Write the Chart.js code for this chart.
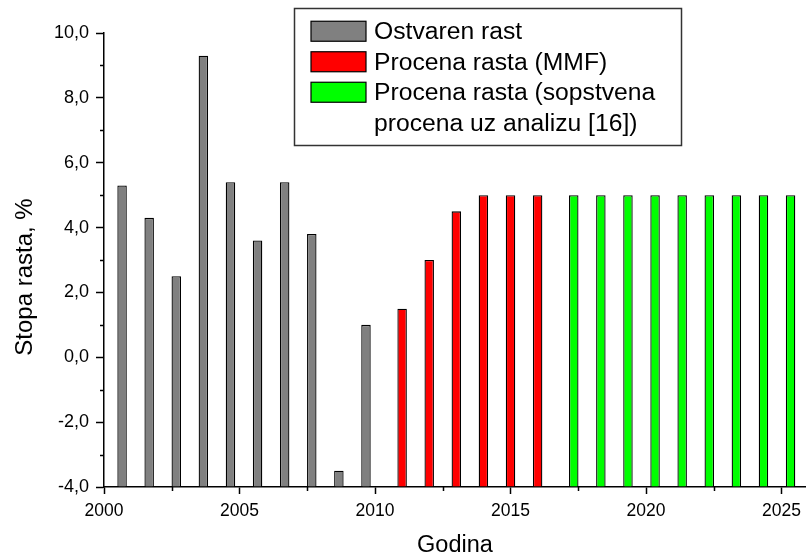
<!DOCTYPE html>
<html>
<head>
<meta charset="utf-8">
<title>Stopa rasta</title>
<script src="https://cdn.jsdelivr.net/npm/chart.js@4.4.1/dist/chart.umd.min.js"></script>
<style>
    body { margin: 0; background: #fff; }
    canvas { display: block; }
</style>
</head>
<body>
<canvas id="growthChart" width="808" height="560"></canvas>
<script>
// years and growth rates
const actualYears = [2001, 2002, 2003, 2004, 2005, 2006, 2007, 2008, 2009, 2010];
const actualValues = [5.3, 4.3, 2.5, 9.3, 5.4, 3.6, 5.4, 3.8, -3.5, 1.0];

const imfYears = [2011, 2012, 2013, 2014, 2015, 2016];
const imfValues = [1.5, 3.0, 4.5, 5.0, 5.0, 5.0];

const ownYears = [2017, 2018, 2019, 2020, 2021, 2022, 2023, 2024, 2025];
const ownValues = [5.0, 5.0, 5.0, 5.0, 5.0, 5.0, 5.0, 5.0, 5.0];

const seriesLabels = [
    'Ostvaren rast',
    'Procena rasta (MMF)',
    'Procena rasta (sopstvena procena uz analizu [16])'
];
const seriesColors = ['#808080', '#ff0000', '#00ff00'];

const FONT = '"Liberation Sans", Arial, sans-serif';
Chart.defaults.font.family = FONT;
Chart.defaults.color = '#000';

function toPoints(xs, ys) {
    return xs.map(function (x, i) { return { x: x, y: ys[i] }; });
}

// short ticks between the labelled ones
const minorTicks = {
    id: 'minorTicks',
    afterDraw: function (chart) {
        const ctx = chart.ctx;
        const x = chart.scales.x;
        const y = chart.scales.y;
        ctx.save();
        ctx.strokeStyle = '#000';
        ctx.lineWidth = 1.5;
        ctx.beginPath();
        for (let v = x.min + 2.5; v < x.max; v += 5) {
            const px = Math.round(x.getPixelForValue(v)) + 0.5;
            ctx.moveTo(px, x.top);
            ctx.lineTo(px, x.top + 4);
        }
        for (let v = y.min + 1; v < y.max; v += 2) {
            const py = Math.round(y.getPixelForValue(v)) + 0.5;
            ctx.moveTo(y.right, py);
            ctx.lineTo(y.right - 4, py);
        }
        ctx.stroke();
        ctx.restore();
    }
};

// y title sits a bit below the middle of the axis in the original
const yTitle = {
    id: 'yTitle',
    afterDraw: function (chart) {
        const ctx = chart.ctx;
        ctx.save();
        ctx.translate(25, 277);
        ctx.rotate(-Math.PI / 2);
        ctx.font = '24px ' + FONT;
        ctx.fillStyle = '#000';
        ctx.textAlign = 'center';
        ctx.textBaseline = 'middle';
        ctx.fillText('Stopa rasta, %', 0, 0);
        ctx.restore();
    }
};

// framed legend in the upper middle, last label wraps onto two lines
const boxLegend = {
    id: 'boxLegend',
    afterDraw: function (chart) {
        const ctx = chart.ctx;
        const left = 294, top = 8, width = 387;
        const rowH = 30.5, padTop = 8, padBottom = 7;
        const swatchX = 311, swatchW = 55, swatchH = 20, textX = 374;
        const maxText = left + width - textX - 6;

        ctx.save();
        ctx.font = '24.7px ' + FONT;
        ctx.textBaseline = 'middle';
        ctx.textAlign = 'left';

        const rows = chart.data.datasets.map(function (ds) {
            const words = ds.label.split(' ');
            const lines = [];
            let line = '';
            words.forEach(function (w) {
                const test = line ? line + ' ' + w : w;
                if (line && ctx.measureText(test).width > maxText) {
                    lines.push(line);
                    line = w;
                } else {
                    line = test;
                }
            });
            lines.push(line);
            return { ds: ds, lines: lines };
        });
        const lineCount = rows.reduce(function (n, r) { return n + r.lines.length; }, 0);
        const height = padTop + lineCount * rowH + padBottom;

        ctx.fillStyle = '#fff';
        ctx.fillRect(left, top, width, height);
        ctx.strokeStyle = '#333';
        ctx.lineWidth = 1.5;
        ctx.strokeRect(left + 0.5, top + 0.5, width, height);

        let cy = top + padTop + rowH / 2;
        rows.forEach(function (r) {
            ctx.fillStyle = r.ds.backgroundColor;
            ctx.fillRect(swatchX, cy - swatchH / 2, swatchW, swatchH);
            ctx.strokeStyle = '#000';
            ctx.lineWidth = 1.2;
            ctx.strokeRect(swatchX, cy - swatchH / 2, swatchW, swatchH);
            ctx.fillStyle = '#000';
            r.lines.forEach(function (t) {
                ctx.fillText(t, textX, cy + 1);
                cy += rowH;
            });
        });
        ctx.restore();
    }
};

const barStyle = {
    base: -4,
    borderColor: '#000',
    borderWidth: 1.3,
    barPercentage: 1.05,
    categoryPercentage: 1
};

const data = {
    datasets: [
        Object.assign({ label: seriesLabels[0], data: toPoints(actualYears, actualValues), backgroundColor: seriesColors[0] }, barStyle),
        Object.assign({ label: seriesLabels[1], data: toPoints(imfYears, imfValues), backgroundColor: seriesColors[1] }, barStyle),
        Object.assign({ label: seriesLabels[2], data: toPoints(ownYears, ownValues), backgroundColor: seriesColors[2] }, barStyle)
    ]
};

const config = {
    type: 'bar',
    data: data,
    options: {
        responsive: false,
        animation: false,
        layout: { padding: { top: 33, left: 0, right: 0, bottom: 0 } },
        plugins: {
            legend: { display: false },
            tooltip: { enabled: false }
        },
        scales: {
            x: {
                type: 'linear',
                min: 2000,
                max: 2025.9,
                offset: false,
                border: { color: '#000', width: 1.5 },
                grid: { offset: false, drawOnChartArea: false, tickLength: 7, tickWidth: 1.5, tickColor: '#000' },
                ticks: {
                    stepSize: 5,
                    includeBounds: false,
                    autoSkip: false,
                    maxRotation: 0,
                    padding: 7,
                    font: { size: 17.5 },
                    callback: function (v) { return String(v); }
                },
                title: { display: true, text: 'Godina', font: { size: 23.5 }, padding: 0 },
                afterFit: function (scale) { scale.height = 73; }
            },
            y: {
                min: -4,
                max: 10,
                border: { color: '#000', width: 1.5 },
                grid: { drawOnChartArea: false, tickLength: 8, tickWidth: 1.5, tickColor: '#000' },
                ticks: {
                    stepSize: 2,
                    padding: 7,
                    font: { size: 18 },
                    callback: function (v) { return v.toFixed(1).replace('.', ','); }
                },
                title: { display: false },
                afterFit: function (scale) { scale.width = 104; }
            }
        }
    },
    plugins: [minorTicks, yTitle, boxLegend]
};

const growthChart = new Chart(document.getElementById('growthChart'), config);
</script>
</body>
</html>
